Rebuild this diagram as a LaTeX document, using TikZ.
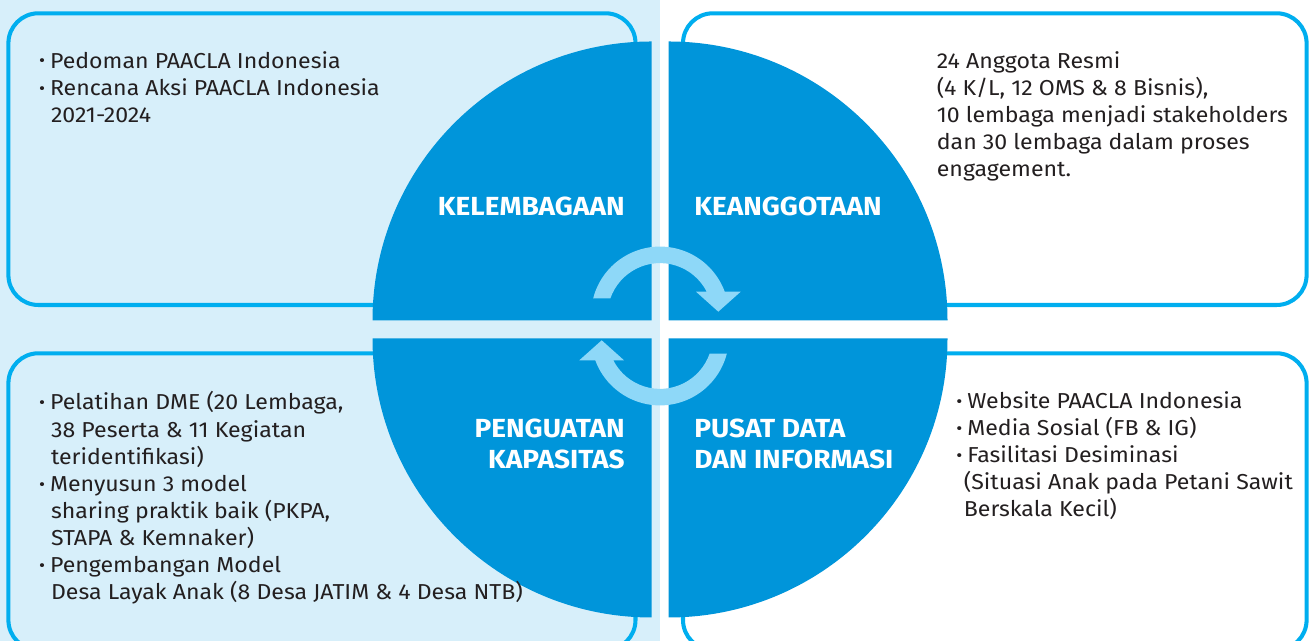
\documentclass[tikz,border=0pt]{standalone}
\usepackage{fontspec}
\setmainfont{Fira Sans}[FakeStretch=1.07]
\usepackage{tikz}
\usetikzlibrary{
    positioning
}
\definecolor{PaleSky}{RGB}{215,239,250}
\definecolor{QuadBlue}{RGB}{0,149,218}
\definecolor{FrameCyan}{RGB}{0,174,239}
\definecolor{ArrowSky}{RGB}{142,216,248}
\definecolor{InkGray}{RGB}{35,31,32}
\newcommand{\bul}{\makebox[0.22cm][l]{\raisebox{0.06em}{\scalebox{0.8}{\textbullet}}}}
\newcommand{\ind}{\hspace*{0.24cm}}
\newcommand{\indr}{\hspace*{0.15cm}}

\begin{document}
\begin{tikzpicture}[
    x=0.02cm, y=0.02cm,
    frame/.style={draw=FrameCyan, line width=2.3pt, rounded corners=0.6cm},
    quadrant/.style={fill=QuadBlue},
    body/.style={font=\fontsize{12.3}{15.45}\selectfont, text=InkGray,
        align=left, inner sep=0pt, anchor=base west},
    heading/.style={font=\fontsize{14.9}{18.2}\selectfont\bfseries,
        text=white, inner sep=0pt}
]

\clip (0,0) rectangle (1312,641);

% Background halves
\fill[PaleSky] (0,0) rectangle (660,641);
\fill[white] (660,0) rectangle (1312,641);

% Frames
\draw[frame, fill=PaleSky] (8.4,336) rectangle (635.5,627.7);
\draw[frame, fill=white] (683,336) rectangle (1306.6,627.7);
\draw[frame, fill=PaleSky] (8.4,-9) rectangle (635.5,287.7);
\draw[frame, fill=white] (683,-9) rectangle (1306.6,287.7);

% Quadrants
\fill[quadrant] (651.5,320.5) -- ++(-279,0)
    arc[start angle=180, end angle=90, radius=279] -- cycle;
\fill[quadrant] (668.5,320.5) -- ++(0,279)
    arc[start angle=90, end angle=0, radius=279] -- cycle;
\fill[quadrant] (651.5,302.5) -- ++(-279,0)
    arc[start angle=180, end angle=270, radius=279] -- cycle;
\fill[quadrant] (668.5,302.5) -- ++(279,0)
    arc[start angle=0, end angle=-90, radius=279] -- cycle;

% Cycle arrows
\foreach \rot in {0,180}{
    \begin{scope}[rotate around={\rot:(660,315)}]
        \fill[ArrowSky] (593.2,342.7)
            arc[start angle=165.5, end angle=20.3, radius=69]
            -- (740.7,349.3) -- (718.3,329.3) -- (696,349.3)
            -- (706.7,349.3)
            arc[start angle=27.1, end angle=160.8, radius=52.5]
            -- cycle;
    \end{scope}
}

% Quadrant titles (base = last line)
\node[heading, anchor=base east] (lembaga) at (625,425) {KELEMBAGAAN};
\node[heading, anchor=base west] (anggota) at (694,425) {KEANGGOTAAN};
\node[heading, align=right, anchor=base east] (kapasitas) at (625,172)
    {PENGUATAN\\KAPASITAS};
\node[heading, align=left, anchor=base west] (pusatData) at (694,172)
    {PUSAT DATA\\DAN INFORMASI};

% Frame texts (base = last line)
\node[body] (lembagaList) at (38.7,518.5)
    {\bul Pedoman PAACLA Indonesia\\
     \bul Rencana Aksi PAACLA Indonesia\\
     \ind 2021-2024};
\node[body] (anggotaText) at (936.5,464)
    {24 Anggota Resmi\\
     (4 K/L, 12 OMS \& 8 Bisnis),\\
     10 lembaga menjadi stakeholders\\
     dan 30 lembaga dalam proses\\
     engagement.};
\node[body] (kapasitasList) at (38.7,41)
    {\bul Pelatihan DME (20 Lembaga,\\
     \ind 38 Peserta \& 11 Kegiatan\\
     \ind teridentifikasi)\\
     \bul Menyusun 3 model\\
     \ind sharing praktik baik (PKPA,\\
     \ind STAPA \& Kemnaker)\\
     \bul Pengembangan Model\\
     \ind Desa Layak Anak (8 Desa JATIM \& 4 Desa NTB)};
\node[body] (pusatDataList) at (956,124)
    {\bul Website PAACLA Indonesia\\
     \bul Media Sosial (FB \& IG)\\
     \bul Fasilitasi Desiminasi\\
     \indr (Situasi Anak pada Petani Sawit\\
     \indr Berskala Kecil)};

\end{tikzpicture}
\end{document}
